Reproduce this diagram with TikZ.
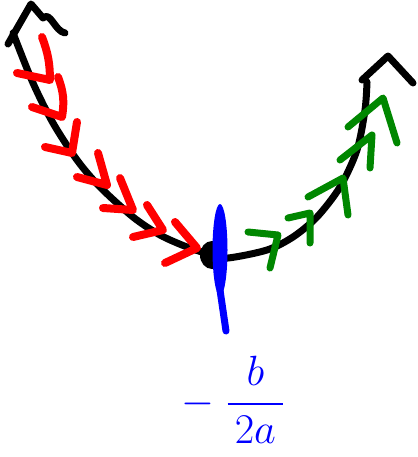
\documentclass[tikz,border=0pt]{standalone}
\usepackage{amsmath}
\usepackage{xcolor}
\usetikzlibrary{arrows.meta}
\definecolor{penred}{RGB}{255,0,0}
\definecolor{pengreen}{RGB}{0,135,0}
\definecolor{penblue}{RGB}{0,0,255}
\tikzset{pen/.style={line width=7pt,line cap=round,line join=round},
redmark/.style={pen,penred,line width=8pt},
greenmark/.style={pen,pengreen}}
\begin{document}
\begin{tikzpicture}[x=1pt,y=-1pt]
\useasboundingbox (0,0) rectangle (417,457);
\coordinate (vertex) at (212,255);
\draw[pen,smooth]plot coordinates{(13,33)(33,83)(53,123)(77,160)(100,187)(133,217)(160,235)(187,247)(vertex)(228,258)(267,250)(293,237)(317,217)(340,187)(357,150)(365,110)(367,82)};
\draw[pen](8,44)--(31,4)--(43,18)to[out=45,in=170](65,33);
\draw[pen](362,80)--(388,56)--(413,83);
\fill(vertex)ellipse(12 and 14);
\draw[redmark](42,37)to[bend left=10](50,80)--(17,73)
(58,77)to[bend left=15](62,117)--(32,107)
(77,122)--(72,153)--(45,147)
(98,153)--(107,185)--(77,177)
(120,178)--(133,210)--(103,208)
(147,205)--(163,230)--(133,237)
(175,222)--(197,248)--(165,263);
\draw[greenmark](248,232)--(278,235)--(270,268)
(288,218)--(310,213)--(310,243)
(308,197)--(343,178)--(348,215)
(340,160)--(372,135)--(370,168)
(348,127)--(383,98)--(397,143);
\fill[penblue](220,250)ellipse(7.5 and 46);
\draw[pen,penblue](220,290)--(226,331);
\node[penblue,font=\Huge,scale=1.7](root)at(233,400){$-\;\dfrac{\;b\;}{\,2a\,}$};
\end{tikzpicture}
\end{document}
